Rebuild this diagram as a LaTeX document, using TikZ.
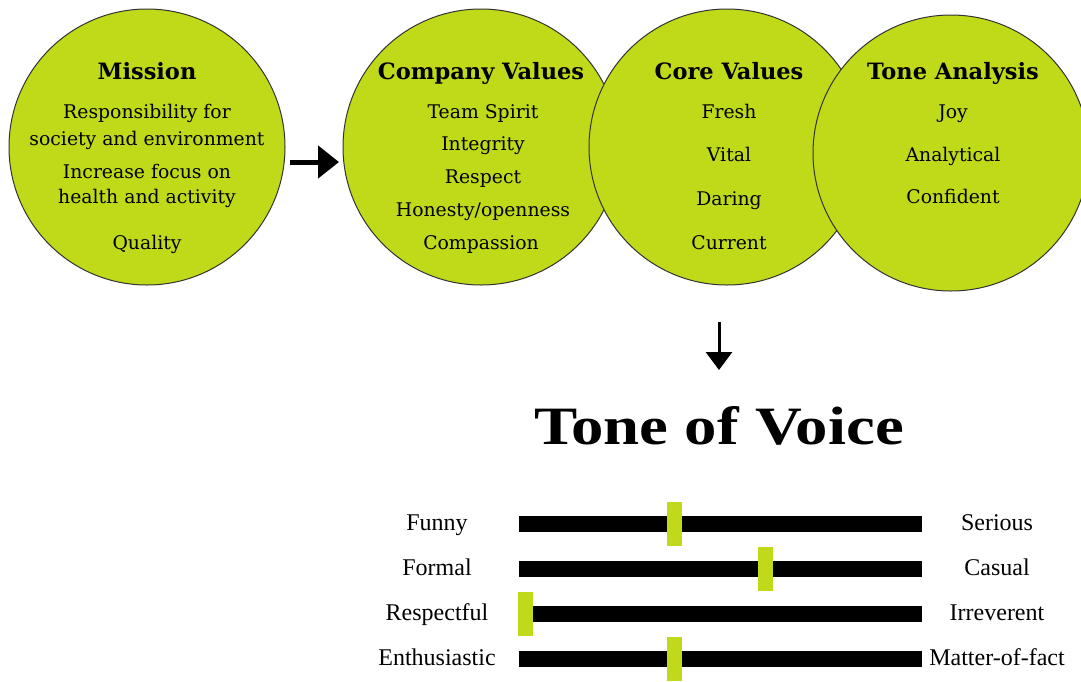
\documentclass[tikz,border=0pt]{standalone}
\usepackage{fontspec}
\setmainfont{DejaVu Serif}
\newfontfamily\labelfont{Liberation Serif}
\usetikzlibrary{arrows.meta}
\definecolor{lime}{RGB}{192,217,24}
\begin{document}
\begin{tikzpicture}[x=1pt,y=-1pt,
  bubble/.style={circle, fill=lime, draw=black!80, line width=1pt,
    minimum size=276pt, inner sep=0pt},
  heading/.style={font=\fontsize{22.5}{26}\selectfont\bfseries, anchor=base},
  item/.style={font=\fontsize{18.8}{22}\selectfont, anchor=base},
  bar/.style={fill=black, minimum width=403pt, minimum height=16pt, inner sep=0pt},
  knob/.style={fill=lime, minimum width=15pt, minimum height=44pt, inner sep=0pt},
  endlabel/.style={font=\labelfont\fontsize{24}{28}\selectfont, anchor=base}
]
\useasboundingbox (0,0) rectangle (1081,681);

% the four value circles, each one lying over the one before it
\node[bubble] (mission) at (147,147) {};
\node[bubble] (company) at (481,147) {};
\node[bubble] (core)    at (727,147) {};
\node[bubble] (tone)    at (951,153) {};

% Mission
\node[heading] (missionT) at (147,79) {Mission};
\node[item] (m1) at (147,118) {Responsibility for};
\node[item] (m2) at (147,145) {society and environment};
\node[item] (m3) at (147,178) {Increase focus on};
\node[item] (m4) at (147,203) {health and activity};
\node[item] (m5) at (147,249) {Quality};

% Company Values
\node[heading] (companyT) at (481,79) {Company Values};
\node[item] (c1) at (483,118) {Team Spirit};
\node[item] (c2) at (483,150) {Integrity};
\node[item] (c3) at (483,183) {Respect};
\node[item] (c4) at (483,216) {Honesty/openness};
\node[item] (c5) at (481,249) {Compassion};

% Core Values
\node[heading] (coreT) at (729,79) {Core Values};
\node[item] (v1) at (729,118) {Fresh};
\node[item] (v2) at (729,161) {Vital};
\node[item] (v3) at (729,205) {Daring};
\node[item] (v4) at (729,249) {Current};

% Tone Analysis
\node[heading] (toneT) at (953,79) {Tone Analysis};
\node[item] (t1) at (953,118) {Joy};
\node[item] (t2) at (953,161) {Analytical};
\node[item] (t3) at (953,203) {Confident};

% arrows
\coordinate (rightFrom) at (290,162);
\coordinate (rightTo)   at (339,162);
\draw[line width=5pt, -{Triangle[length=21pt,width=32pt]}] (rightFrom) -- (rightTo);

\coordinate (downFrom) at (719,322);
\coordinate (downTo)   at (719,370);
\draw[line width=3pt, -{Triangle[length=18pt,width=26pt]}] (downFrom) -- (downTo);

% title
\node[font=\labelfont\bfseries\fontsize{54}{60}\selectfont] (voice) at (719,426)
  {\scalebox{1.2}[1]{Tone of Voice}};

% sliders
\foreach \y/\k/\l/\r [count=\i] in {524/674/Funny/Serious,
                                     569/765/Formal/Casual,
                                     614/525/Respectful/Irreverent,
                                     659/674/Enthusiastic/Matter-of-fact}{
  \node[bar] (bar\i) at (720.5,\y) {};
  \node[knob] (knob\i) at (\k,\y) {};
  \node[endlabel] (left\i) at (437,\y+6) {\l};
  \node[endlabel] (right\i) at (997,\y+6) {\r};
}
\end{tikzpicture}
\end{document}
